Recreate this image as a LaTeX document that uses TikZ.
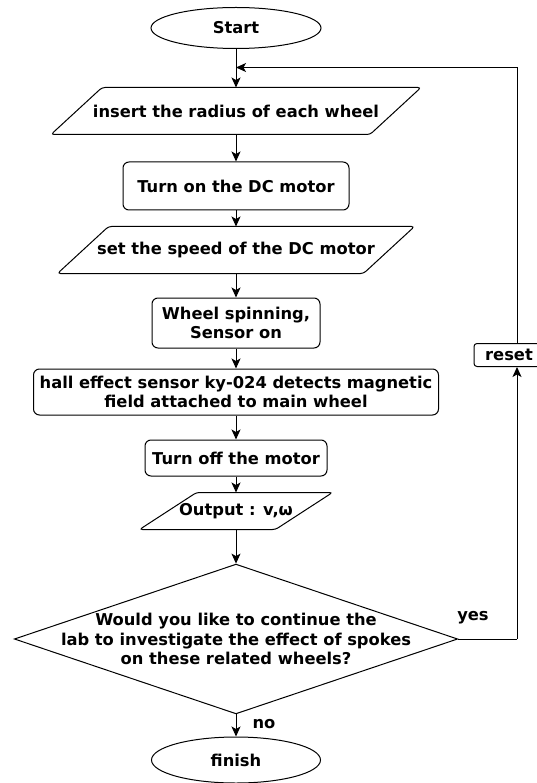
\documentclass[tikz,border=0pt]{standalone}
\usepackage{fontspec}
\setmainfont{DejaVu Sans}
\usepackage{tikz}
\usetikzlibrary{positioning,shapes.geometric,arrows.meta}

\begin{document}
\begin{tikzpicture}[
	x=1pt, y=-1pt,
	font=\bfseries\fontsize{16.3}{19.5}\selectfont,
	line width=1pt,
	proc/.style={
		rectangle, rounded corners=6pt, draw=black,
		align=center, inner sep=0pt
	},
	inout/.style={
		rectangle, inner sep=0pt,
		append after command={\pgfextra{\let\ionode\tikzlastnode
			\draw[rounded corners=3pt]
				([xshift=#1]\ionode.north west) -- ([xshift=#1]\ionode.north east)
				-- ([xshift=-#1]\ionode.south east) -- ([xshift=-#1]\ionode.south west) -- cycle;}}
	},
	term/.style={
		ellipse, draw=black, inner sep=0pt
	},
	cond/.style={
		diamond, draw=black, align=center, inner sep=-7.5pt, aspect=2.96
	},
	line/.style={
		draw=black, -{Stealth[length=10pt,width=9pt,inset=2.5pt]}
	},
	edge_label/.style={
		inner sep=0pt
	}
	]
	
	\useasboundingbox (0,0) rectangle (537,783);
	
	% --- MAIN COLUMN ---
	\node[term, minimum width=170pt, minimum height=41pt] (start) at (236,28) {Start};
	\node[inout=25.5pt, minimum width=318pt, minimum height=46pt] (in1) at (236,111) {insert the radius of each wheel};
	\node[proc, minimum width=226pt, minimum height=48pt] (on) at (236,186) {Turn on the DC motor};
	\node[inout=25.5pt, minimum width=305pt, minimum height=46pt] (in2) at (236,250) {set the speed of the DC motor};
	\node[proc, minimum width=168pt, minimum height=50pt] (spin) at (236,323) {Wheel spinning,\\Sensor on};
	\node[proc, minimum width=405pt, minimum height=46pt] (hall) at (236,392) {hall effect sensor ky-024 detects magnetic\\field attached to main wheel};
	\node[proc, minimum width=182pt, minimum height=36pt] (off) at (236,458) {Turn off the motor};
	\node[inout=28.5pt, minimum width=135pt, minimum height=36pt] (out) at (236,511) {Output : v,ω};
	\node[cond] (dec) at (236,639) {Would you like to continue the\\lab to investigate the effect of spokes\\on these related wheels?};
	\node[term, minimum width=169pt, minimum height=46pt] (fin) at (236,760) {finish};
	
	% --- LOOP ---
	\node[proc, rounded corners=3pt, minimum width=70pt, minimum height=23pt] (reset) at (509,355) {reset};
	\coordinate (join) at (236,67.5);
	\coordinate (turn) at (517,639);
	
	\node[edge_label] (yes) at (473,618) {yes};
	\node[edge_label] (no) at (264,724) {no};
	
	% --- CONNECTORS ---
	\draw[line] (start) -- (in1);
	\draw[line] (in1) -- (on);
	\draw[line] (on) -- (in2);
	\draw[line] (in2) -- (spin);
	\draw[line] (spin) -- (hall);
	\draw[line] (hall) -- (off);
	\draw[line] (off) -- (out);
	\draw[line] (out) -- (dec);
	\draw[line] (dec) -- (fin);
	\draw (dec.east) -- (turn);
	\draw[line] (turn) -- (turn |- reset.south);
	\draw[line] (turn |- reset.north) |- (join);
	
\end{tikzpicture}
\end{document}
